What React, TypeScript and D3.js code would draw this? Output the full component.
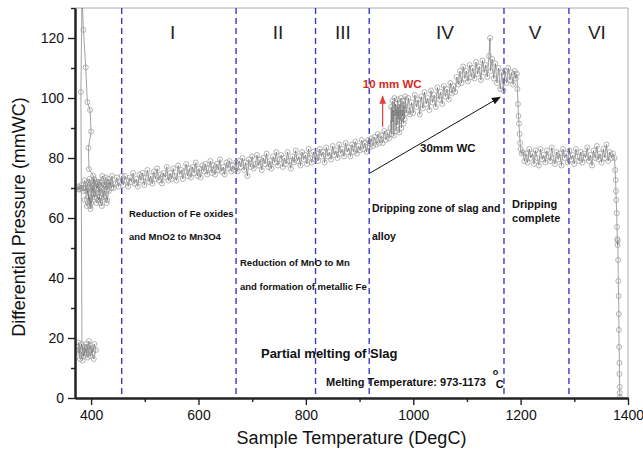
import React, { useEffect, useRef } from "react";
import * as d3 from "d3";

// initial low cluster + jump off the top
const lowTemp = [374, 378, 382, 386, 390, 394, 398, 402, 406, 409, 405, 400, 396, 392, 388, 384, 380, 376, 379, 387, 395, 403, 399, 391, 383, 381, 383];
const lowPres = [17, 15, 18, 14, 16.5, 13.5, 17.5, 15, 18, 16, 13, 16, 19, 14.5, 17, 12.5, 15.5, 18.5, 13, 15, 17, 16.5, 14, 18, 16, 102, 135];

// coming back down
const peakTemp = [385.7, 390, 393, 398, 400, 395, 396, 404, 405];
const peakPres = [122.7, 110.2, 98.6, 96, 88.8, 83.4, 76.3, 74.1, 71];

const clusterTemp = [405, 400, 396, 392, 388, 394, 399, 404, 410, 415, 420, 425, 430, 428, 422, 417, 412, 407, 402, 397, 393, 398, 403, 409, 414, 419, 424, 429, 433, 436, 438, 432, 426, 421, 416, 411, 406, 401, 395, 390, 386, 381, 377, 373];
const clusterPres = [68, 65, 67, 64, 66, 70, 63, 68, 65, 67, 64, 69, 66, 71, 68, 65, 72, 67, 70, 66, 69, 64, 71, 68, 66, 70, 67, 65, 69, 72, 70, 73, 71, 74, 72, 70, 73, 71, 72, 70, 69, 70, 69.5, 70];

// zone I
const zone1Temp = [376, 379, 382, 385, 388, 391, 394, 397, 400, 403, 406, 409, 412, 415, 418, 421, 424, 427, 430, 433, 436, 439, 442, 445, 448, 451, 454, 457,
  460, 463, 466, 469, 472, 475, 478, 481, 484, 487, 490, 493, 496, 499, 502, 505, 508, 511, 514, 517, 520, 523, 526, 529, 532, 535, 538, 541, 544, 547,
  550, 553, 556, 559, 562, 565, 568, 571, 574, 577, 580, 583, 586, 589, 592, 595, 598, 601, 604, 607, 610, 613, 616, 619, 622, 625, 628, 631, 634, 637,
  640, 643, 646, 649, 652, 655, 658, 661, 664, 667];
const zone1Pres = [70.5, 69.5, 71, 70, 72.5, 69, 71.5, 73, 70, 69, 72.5, 70.5, 71.5, 68.5, 72, 70, 71, 73.5, 69.5, 72, 71, 74, 70, 71.5, 73.5, 70.5, 72, 74,
  71, 74, 72.5, 70.5, 73.5, 72, 75, 71.5, 73, 70.5, 74.5, 72.5, 75, 71, 73.5, 76, 72, 74, 71.5, 75.5, 73, 76.5, 72.5, 74.5, 71.5, 75, 73.5, 77, 72.5, 75,
  73, 76.5, 74, 72.5, 77.5, 74.5, 76, 73, 75.5, 78, 74, 76.5, 73.5, 77, 75, 78.5, 74, 76.5, 73.5, 77.5, 75.5, 78, 74.5, 76.5, 79, 75, 77.5, 74.5, 78, 76,
  79.5, 75.5, 77, 74.5, 78.5, 76.5, 79, 75.5, 77.5, 76];

// zone II
const zone2Temp = [670, 673, 676, 679, 682, 685, 688, 691, 694, 697, 700, 703, 706, 709, 712, 715, 718, 721, 724, 727, 730, 733, 736, 739, 742, 745, 748, 751, 754, 757,
  760, 763, 766, 769, 772, 775, 778, 781, 784, 787, 790, 793, 796, 799, 802, 805, 808, 811, 814, 817];
const zone2Pres = [78.5, 75.5, 79, 77, 80, 76, 78.5, 74, 79.5, 77, 80.5, 76.5, 78, 81, 77.5, 79.5, 76, 80, 78, 81.5, 77, 79, 76.5, 80.5, 78.5, 82, 77.5, 79.5, 81, 77,
  80, 78, 82, 79, 76.5, 80.5, 78.5, 82.5, 79, 80.5, 77.5, 82, 79.5, 81, 78, 83, 80, 78.5, 82, 79.5];

// zone III
const zone3Temp = [820, 823, 826, 829, 832, 835, 838, 841, 844, 847, 850, 853, 856, 859, 862, 865, 868, 871, 874, 877, 880, 883, 886, 889, 892, 895, 898, 901, 904, 907, 910, 913, 916];
const zone3Pres = [81.5, 79, 83, 80.5, 82, 78.5, 83.5, 80.5, 82, 79.5, 84, 81, 82.5, 80, 84.5, 81.5, 83, 80.5, 85, 82, 83.5, 80.5, 84.5, 82, 85.5, 81.5, 84, 82.5, 86, 83, 85, 82, 86];

// zone IV (with the 10 mm step near 960)
const zone4Temp = [919, 922, 925, 928, 931, 934, 937, 940, 943, 946, 949, 952, 955, 958,
  959, 960, 961, 962, 963, 964, 965, 966, 967, 968, 969, 970, 971, 972, 973, 974, 975, 976, 977, 978, 979, 980, 981, 982, 983, 984, 985, 987,
  988, 991, 994, 997, 1000, 1003, 1006, 1009, 1012, 1015, 1018, 1021, 1024, 1027, 1030, 1033, 1036, 1039, 1042, 1045, 1048, 1051, 1054, 1057,
  1060, 1063, 1066, 1069, 1072, 1075, 1078, 1081, 1084, 1087, 1090, 1093, 1096, 1099, 1102, 1105, 1108, 1111, 1114, 1117, 1120, 1123, 1126, 1129,
  1132, 1135, 1138, 1141, 1143, 1144, 1147, 1150, 1153, 1156, 1159, 1162, 1165, 1168, 1171, 1174, 1177, 1180, 1183, 1186, 1189, 1191, 1193];
const zone4Pres = [83.5, 86.5, 84, 87, 84.5, 88, 85, 87.5, 85, 89, 86, 88.5, 86.5, 90,
  97, 88, 99, 92, 96, 87.5, 100, 94, 98, 89, 96.5, 91, 99.5, 93, 97, 88.5, 98, 92.5, 100, 90, 96, 94, 99, 91.5, 97.5, 93, 100.5, 95,
  96, 100, 94.5, 98.5, 95, 101, 97, 99.5, 94.5, 100.5, 96.5, 102, 98, 100, 96, 102.5, 98.5, 101, 97, 103.5, 99.5, 102, 98, 104,
  100.5, 103, 99.5, 105, 101.5, 104, 102, 107, 104.5, 109, 105, 110.5, 106.5, 109, 105.5, 111, 107, 110, 106.5, 112, 108, 110.5, 106, 112.5,
  108.5, 111, 107, 114, 120, 109, 113, 106.5, 111.5, 105, 110, 103, 108.5, 102.5, 109, 105, 110, 106, 108.5, 104.5, 109, 106.5, 108];

// zone V drop and plateau
const dropTemp = [1194, 1195, 1196, 1197, 1198, 1199, 1200, 1202];
const dropPres = [103, 98, 94, 91.5, 88, 85, 83, 81.5];

const plateauTemp = [1204, 1207, 1210, 1213, 1216, 1219, 1222, 1225, 1228, 1231, 1234, 1237, 1240, 1243, 1246, 1249, 1252, 1255, 1258, 1261,
  1264, 1267, 1270, 1273, 1276, 1279, 1282, 1285, 1288, 1291, 1294, 1297, 1300, 1303, 1306, 1309, 1312, 1315, 1318, 1321,
  1324, 1327, 1330, 1333, 1336, 1339, 1342, 1345, 1348, 1351, 1354, 1357, 1360, 1363, 1366, 1369, 1372, 1375];
const plateauPres = [82, 79, 81.5, 78.5, 83, 80, 81.5, 78, 82.5, 80, 77.5, 83, 79.5, 81, 78.5, 82.5, 80.5, 79, 83.5, 80,
  78, 82, 79.5, 81.5, 77.5, 83, 80, 81.5, 78.5, 82.5, 79.5, 81, 78, 83, 80.5, 79, 82, 78.5, 81.5, 80,
  83.5, 79, 81, 77.5, 82.5, 80, 84, 79.5, 81.5, 78.5, 83, 80, 84.5, 79, 82, 80, 81.5, 80];

// zone VI collapse
const fallTemp = [1376, 1377, 1377.5, 1378, 1379, 1379.5, 1380, 1380.5, 1381, 1381.5, 1382, 1382.5, 1383, 1383, 1383.5, 1384, 1384, 1384.5, 1384.5, 1385];
const fallPres = [76, 72.7, 69, 66, 61.6, 57, 53, 51, 52.5, 46, 39, 34, 28, 22.7, 17, 11.7, 8, 3.7, 1.7, 0.3];

const zoneBounds = [457, 670, 818, 918, 1169, 1290];
const zoneNames = ["I", "II", "III", "IV", "V", "VI"];
const zoneLabelAt = [552, 748, 869, 1059, 1227, 1342];

const xMajor = [400, 600, 800, 1000, 1200, 1400];
const xMinor = [500, 700, 900, 1100, 1300];
const yMajor = [0, 20, 40, 60, 80, 100, 120];
const yMinor = [10, 30, 50, 70, 90, 110, 130];

const W = 643;
const H = 452;
const margin = { top: 8, right: 15, bottom: 54, left: 75 };
const FONT = "'Liberation Sans', Arial, sans-serif";

export default function App() {
  const xAxisRef = useRef<SVGGElement>(null);
  const yAxisRef = useRef<SVGGElement>(null);

  const x = d3.scaleLinear().domain([370, 1400]).range([margin.left, W - margin.right]);
  const y = d3.scaleLinear().domain([0, 130]).range([H - margin.bottom, margin.top]);

  const temps = [...lowTemp, ...peakTemp, ...clusterTemp, ...zone1Temp, ...zone2Temp, ...zone3Temp, ...zone4Temp, ...dropTemp, ...plateauTemp, ...fallTemp];
  const pres = [...lowPres, ...peakPres, ...clusterPres, ...zone1Pres, ...zone2Pres, ...zone3Pres, ...zone4Pres, ...dropPres, ...plateauPres, ...fallPres];
  const pts: [number, number][] = temps.map((t, i) => [t, pres[i]]);
  const trace = d3.line<[number, number]>().x((d) => x(d[0])).y((d) => y(d[1]))(pts) || "";

  useEffect(() => {
    const gx = d3.select(xAxisRef.current);
    gx.selectAll("*").remove();
    gx.append("g").call(d3.axisBottom(x).tickValues(xMinor).tickSize(4).tickSizeOuter(0).tickFormat(() => ""));
    gx.append("g").call(d3.axisBottom(x).tickValues(xMajor).tickSize(7).tickSizeOuter(0).tickPadding(5).tickFormat(d3.format("d")));

    const gy = d3.select(yAxisRef.current);
    gy.selectAll("*").remove();
    gy.append("g").call(d3.axisLeft(y).tickValues(yMinor).tickSize(4).tickSizeOuter(0).tickFormat(() => ""));
    gy.append("g").call(d3.axisLeft(y).tickValues(yMajor).tickSize(7).tickSizeOuter(0).tickPadding(4).tickFormat(d3.format("d")));

    [gx, gy].forEach((g) => {
      g.selectAll("path.domain").attr("stroke", "#222").attr("stroke-width", 2);
      g.selectAll(".tick line").attr("stroke", "#222").attr("stroke-width", 1.4);
      g.selectAll(".tick text").attr("font-size", 14).attr("font-family", FONT).attr("fill", "#111");
    });
  });

  const plotL = margin.left;
  const plotR = W - margin.right;
  const plotT = margin.top;
  const plotB = H - margin.bottom;

  const bold = { fontFamily: FONT, fontWeight: 700 as const, fill: "#111" };

  return (
    <svg width={W} height={H} style={{ position: "absolute", left: 0, top: 0, background: "#fff" }} fontFamily={FONT}>
      <defs>
        <clipPath id="plot">
          <rect x={plotL} y={plotT} width={plotR - plotL} height={plotB - plotT} />
        </clipPath>
        <marker id="blackHead" viewBox="0 0 10 10" refX="9" refY="5" markerWidth="9" markerHeight="9" orient="auto">
          <path d="M0,1 L10,5 L0,9 Z" fill="#111" />
        </marker>
        <marker id="redHead" viewBox="0 0 10 10" refX="9" refY="5" markerWidth="7" markerHeight="7" orient="auto">
          <path d="M0,1 L10,5 L0,9 Z" fill="#e0403a" />
        </marker>
      </defs>

      {/* frame */}
      <line x1={plotL} x2={plotR} y1={plotT} y2={plotT} stroke="#aaa" strokeWidth={1} />
      <line x1={plotR} x2={plotR} y1={plotT} y2={plotB} stroke="#aaa" strokeWidth={1} />

      {/* zone dividers */}
      {zoneBounds.map((b) => (
        <line key={b} x1={x(b)} x2={x(b)} y1={plotT} y2={plotB} stroke="#3a3ac8" strokeWidth={1.4} strokeDasharray="6,4" />
      ))}
      {zoneNames.map((n, i) => (
        <text key={n} x={x(zoneLabelAt[i])} y={39} textAnchor="middle" fontSize={19} fill="#222">{n}</text>
      ))}

      <g clipPath="url(#plot)">
        <path d={trace} fill="none" stroke="#444" strokeWidth={0.5} />
        {pts.map((d, i) => (
          <circle key={i} cx={x(d[0])} cy={y(d[1])} r={2.5} fill="none" stroke="#959595" strokeWidth={0.7} />
        ))}
      </g>

      {/* arrows */}
      <line x1={x(919.6)} y1={y(75)} x2={x(1161.7)} y2={y(100.3)} stroke="#111" strokeWidth={1} markerEnd="url(#blackHead)" />
      <line x1={x(943)} y1={y(90.4)} x2={x(943)} y2={y(100.6)} stroke="#e0403a" strokeWidth={1.2} markerEnd="url(#redHead)" />

      {/* annotations */}
      <text x={x(906)} y={y(103.3)} fontSize={11.5} fontWeight={700} fill="#d42a22">10 mm WC</text>
      <text x={x(1012.6)} y={y(82)} fontSize={11.5} {...bold}>30mm WC</text>
      <text x={x(470.6)} y={y(60.3)} fontSize={9.5} {...bold}>Reduction of Fe oxides</text>
      <text x={x(470.6)} y={y(52.7)} fontSize={9.5} {...bold}>and MnO2 to Mn3O4</text>
      <text x={x(677.3)} y={y(44)} fontSize={9.5} {...bold}>Reduction of MnO to Mn</text>
      <text x={x(677.3)} y={y(36)} fontSize={9.5} {...bold}>and formation of metallic Fe</text>
      <text x={x(923.2)} y={y(62)} fontSize={10.5} {...bold}>Dripping zone of slag and</text>
      <text x={x(923.2)} y={y(52.7)} fontSize={10.5} {...bold}>alloy</text>
      <text x={x(1184)} y={y(63.3)} fontSize={11} {...bold}>Dripping</text>
      <text x={x(1184)} y={y(58.7)} fontSize={11} {...bold}>complete</text>
      <text x={x(716.4)} y={y(13.3)} fontSize={13} {...bold}>Partial melting of Slag</text>
      <text x={x(837.5)} y={y(4)} fontSize={11} {...bold}>Melting Temperature: 973-1173</text>
      <text x={x(1148)} y={y(7.8)} fontSize={9} {...bold}>o</text>
      <text x={x(1153.5)} y={y(3.3)} fontSize={11} {...bold}>C</text>

      <g ref={xAxisRef} transform={`translate(0,${plotB})`} />
      <g ref={yAxisRef} transform={`translate(${plotL},0)`} />

      <text x={(plotL + plotR) / 2} y={444} textAnchor="middle" fontSize={18} fill="#111">Sample Temperature (DegC)</text>
      <text transform={`translate(25,${(plotT + plotB) / 2 + 14}) rotate(-90)`} textAnchor="middle" fontSize={18} fill="#111">Differential Pressure (mmWC)</text>
    </svg>
  );
}
